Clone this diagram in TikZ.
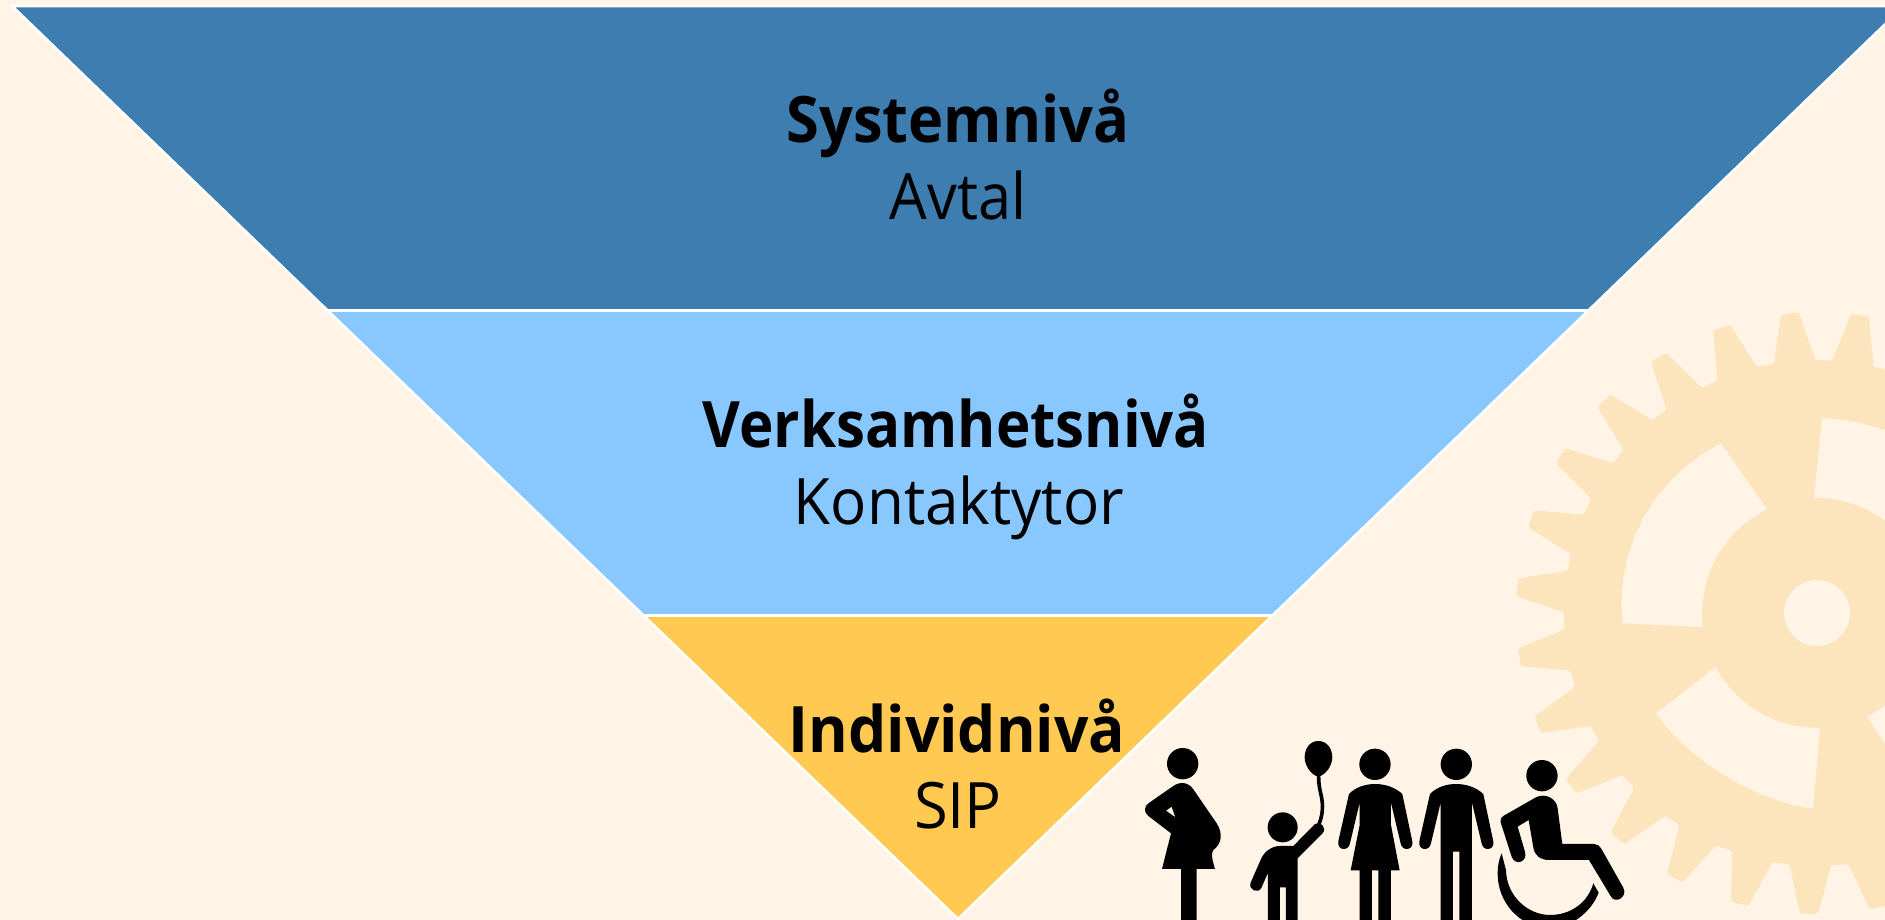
\documentclass[tikz,border=0pt]{standalone}
\usepackage{fontspec}
\setmainfont{Open Sans}
\definecolor{bgc}{HTML}{FFF4E6}
\definecolor{band1}{HTML}{3D7DB0}
\definecolor{band2}{HTML}{89C8FF}
\definecolor{band3}{HTML}{FFC952}
\definecolor{gearc}{HTML}{FCE4BC}
\tikzset{
  band/.style={draw=white,line width=2.6pt,line join=miter},
  boldtxt/.style={anchor=base,inner sep=0pt,font=\fontsize{64}{64}\selectfont\bfseries,text=black},
  thintxt/.style={anchor=base,inner sep=0pt,font=\fontsize{64}{64}\selectfont,text=black},
  pers/.style={fill=black,draw=none},
}
\begin{document}
\begin{tikzpicture}[x=1pt,y=-1pt]
\useasboundingbox (0,0) rectangle (1885,920);
\begin{scope}
\clip (0,0) rectangle (1885,920);
\fill[bgc] (0,0) rectangle (1885,920);
% gear
\def\cx{1817}\def\cy{613}
\fill[gearc,rounded corners=2.5pt]
  ({\cx+253*cos(81.8-4.6)},{\cy-253*sin(81.8-4.6)})
  \foreach \k in {0,...,26}{
    -- ({\cx+253*cos(81.8+13.333*\k-4.7)},{\cy-253*sin(81.8+13.333*\k-4.7)})
    -- ({\cx+301*cos(81.8+13.333*\k-1.7)},{\cy-301*sin(81.8+13.333*\k-1.7)})
    -- ({\cx+301*cos(81.8+13.333*\k+1.7)},{\cy-301*sin(81.8+13.333*\k+1.7)})
    -- ({\cx+253*cos(81.8+13.333*\k+4.7)},{\cy-253*sin(81.8+13.333*\k+4.7)})
  } -- cycle;
\fill[bgc] (\cx,\cy) ellipse [x radius=33,y radius=33];
\foreach \ia/\ib/\oa/\ob/\ra/\rb/\rm in {115.7/187/119.5/183/195/195/3, 208/271.5/212/268.8/190/196/-6, 25/91.5/28/88.5/195/195/0, 295.7/361/299/358/195/195/0}{
  \fill[bgc] ({\cx+115*cos(\ia)},{\cy-115*sin(\ia)})
    \foreach \t in {0,0.1,...,1.0001}{
      -- ({\cx+115*cos(\ia+(\ib-\ia)*\t)},{\cy-115*sin(\ia+(\ib-\ia)*\t)})
    } \foreach \t in {1,0.9,...,-0.0001}{
      -- ({\cx+(\ra+(\rb-\ra)*\t+\rm*sin(180*\t))*cos(\oa+(\ob-\oa)*\t)},{\cy-(\ra+(\rb-\ra)*\t+\rm*sin(180*\t))*sin(\oa+(\ob-\oa)*\t)})
    } -- cycle;
}
% funnel
\coordinate (a) at (12,6);
\coordinate (b) at (1904,6);
\coordinate (c) at (1588.4,310.5);
\coordinate (d) at (327.6,310.5);
\coordinate (e) at (1272.4,615.5);
\coordinate (f) at (643.6,615.5);
\coordinate (g) at (958,919);
\path[band,fill=band1] (a) -- (b) -- (c) -- (d) -- cycle;
\path[band,fill=band2] (d) -- (c) -- (e) -- (f) -- cycle;
\path[band,fill=band3] (f) -- (e) -- (g) -- cycle;
% people (coordinates of the crop, 3 units per pixel)
\begin{scope}[shift={(1120,720)},x=0.3333pt,y=-0.3333pt]
% pregnant woman
\fill[pers] (188,131) circle [radius=47];
\fill[pers,even odd rule] (160,198) .. controls (180,184) and (205,186) .. (220,208) -- (290,310)
  .. controls (310,340) and (305,372) .. (280,390) .. controls (272,400) and (277,420) .. (285,447)
  -- (230,447) -- (230,620) -- (183,620) -- (183,447) -- (126,447) -- (153,340) -- (85,288)
  .. controls (70,276) and (72,258) .. (88,248) -- cycle
  (155,260) -- (166,292) -- (138,272) -- cycle;
% child
\fill[pers] (488,322) circle [radius=45];
\fill[pers] (595,63) .. controls (620,63) and (637,85) .. (637,112) .. controls (637,135) and (618,165) .. (595,170)
  .. controls (572,165) and (554,135) .. (554,112) .. controls (554,85) and (570,63) .. (595,63) -- cycle;
\draw[line width=3.6pt] (596,168) .. controls (596,210) and (604,215) .. (607,250) .. controls (609,275) and (604,295) .. (597,312);
\fill[pers] (480,378) -- (520,378) -- (585,312) .. controls (600,302) and (622,322) .. (608,340) -- (533,415)
  -- (533,620) -- (498,620) -- (498,502) -- (480,502) -- (480,620) -- (444,620) -- (444,458) -- (424,504)
  .. controls (414,522) and (384,510) .. (392,488) -- (424,415) .. controls (435,392) and (458,378) .. (480,378) -- cycle;
% woman
\fill[pers] (765,133) circle [radius=47];
\fill[pers] (687,222) .. controls (725,182) and (805,182) .. (847,222) -- (877,364)
  .. controls (882,392) and (846,395) .. (842,370) -- (813,248) -- (813,315) -- (839,451) -- (813,451) -- (813,620)
  -- (775,620) -- (775,451) -- (756,451) -- (756,620) -- (719,620) -- (719,451) -- (692,451) -- (719,315) -- (719,248)
  -- (690,370) .. controls (686,395) and (650,392) .. (655,364) -- cycle;
% man
\fill[pers] (1009,133) circle [radius=47];
\fill[pers] (930,222) .. controls (968,182) and (1048,182) .. (1090,222) -- (1120,364)
  .. controls (1125,392) and (1089,395) .. (1085,370) -- (1056,248) -- (1056,620) -- (1018,620) -- (1018,395)
  -- (999,395) -- (999,620) -- (962,620) -- (962,248) -- (933,370) .. controls (929,395) and (893,392) .. (898,364) -- cycle;
% wheelchair user
\fill[pers] (1266,167) circle [radius=47];
\fill[pers] (1150,288) -- (1248,232) .. controls (1275,218) and (1310,235) .. (1313,265) -- (1327,372) -- (1422,372)
  .. controls (1432,372) and (1440,378) .. (1444,386) -- (1510,503) .. controls (1525,530) and (1485,555) .. (1472,528)
  -- (1407,420) -- (1287,420) .. controls (1260,420) and (1243,405) .. (1240,382) -- (1226,300) -- (1193,320) -- (1215,395)
  .. controls (1225,425) and (1185,440) .. (1175,410) -- (1142,307) .. controls (1140,298) and (1143,292) .. (1150,288) -- cycle;
\fill[pers] (1145,400) -- (1158,450) .. controls (1160,530) and (1225,585) .. (1290,585)
  .. controls (1355,585) and (1405,545) .. (1420,490) -- (1436,518)
  .. controls (1412,580) and (1350,625) .. (1285,625) .. controls (1195,620) and (1133,545) .. (1133,460)
  .. controls (1133,437) and (1137,418) .. (1145,400) -- cycle;
\end{scope}
\end{scope}
% labels
\node[boldtxt,xscale=0.93] (t1) at (958,143) {Systemnivå};
\node[thintxt,xscale=0.93] (s1) at (958,220) {Avtal};
\node[boldtxt,xscale=0.91] (t2) at (956,447) {Verksamhetsnivå};
\node[thintxt,xscale=0.94] (s2) at (959,524) {Kontaktytor};
\node[boldtxt,xscale=0.945] (t3) at (957,752) {Individnivå};
\node[thintxt,xscale=0.96] (s3) at (958,828) {SIP};
\end{tikzpicture}
\end{document}
